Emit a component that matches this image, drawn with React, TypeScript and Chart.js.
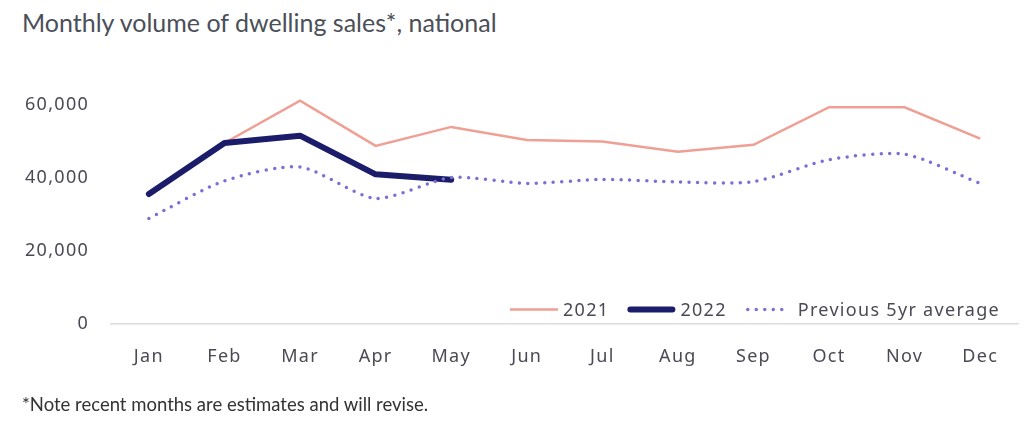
import React, { useEffect, useRef } from "react";
import { Chart, registerables } from "chart.js";

Chart.register(...registerables);

const months = ["Jan", "Feb", "Mar", "Apr", "May", "Jun", "Jul", "Aug", "Sep", "Oct", "Nov", "Dec"];
const sales2021 = [35500, 49500, 61100, 48700, 53900, 50300, 49900, 47100, 49000, 59300, 59300, 50700];
const sales2022 = [35500, 49500, 51500, 40900, 39400, null, null, null, null, null, null, null];
const avg5yr = [28800, 39100, 42900, 34300, 40000, 38400, 39500, 38800, 38900, 44900, 46400, 38400];
const yTicks = [0, 20000, 40000, 60000];

const FONT = "'Noto Sans', 'Open Sans', sans-serif";
const SPACING = "1.3px";

const spacingPlugin = {
  id: "letterSpacing",
  beforeLayout(chart: any) {
    chart.ctx.letterSpacing = SPACING;
  },
  beforeDraw(chart: any) {
    chart.ctx.letterSpacing = SPACING;
  },
};

const legendPlugin = {
  id: "customLegend",
  afterDraw(chart: any) {
    const ctx = chart.ctx;
    const area = chart.chartArea;
    const ds = chart.data.datasets;
    ctx.save();
    ctx.letterSpacing = SPACING;
    ctx.font = "18px " + FONT;
    ctx.textBaseline = "middle";
    const sample = 48;
    const gapText = 5;
    const gapItem = 18;
    const widths = ds.map((d: any) => ctx.measureText(d.label).width);
    const total = widths.reduce((a: number, w: number) => a + sample + gapText + w, 0) + gapItem * (ds.length - 1);
    let x = 1000 - total;
    const y = area.bottom - 14;
    ds.forEach((d: any, i: number) => {
      ctx.beginPath();
      ctx.strokeStyle = d.borderColor;
      ctx.lineWidth = d.borderWidth;
      ctx.lineCap = d.borderCapStyle || "butt";
      ctx.setLineDash(d.borderDash || []);
      const inset = d.borderCapStyle === "round" ? 3 : 0;
      ctx.moveTo(x + inset, y);
      ctx.lineTo(x + sample - inset, y);
      ctx.stroke();
      ctx.setLineDash([]);
      ctx.fillStyle = "#4a4a55";
      ctx.fillText(d.label, x + sample + gapText, y + 1);
      x += sample + gapText + widths[i] + gapItem;
    });
    ctx.restore();
  },
};

export default function App() {
  const ref = useRef<HTMLCanvasElement>(null);
  useEffect(() => {
    document.body.style.margin = "0";
    const chart = new Chart(ref.current!, {
      type: "line",
      data: {
        labels: months,
        datasets: [
          {
            label: "2021",
            data: sales2021,
            borderColor: "#ef9f94",
            borderWidth: 2.5,
            pointRadius: 0,
            tension: 0,
            order: 2,
          },
          {
            label: "2022",
            data: sales2022,
            borderColor: "#1b1d6b",
            borderWidth: 6,
            borderCapStyle: "round",
            borderJoinStyle: "round",
            pointRadius: 0,
            tension: 0,
            spanGaps: false,
            order: 1,
          },
          {
            label: "Previous 5yr average",
            data: avg5yr,
            borderColor: "#7b6fd6",
            borderWidth: 3.5,
            borderDash: [0, 8.5],
            borderCapStyle: "round",
            pointRadius: 0,
            tension: 0.25,
            order: 0,
          },
        ],
      },
      options: {
        animation: false,
        responsive: false,
        layout: { padding: { left: 11, right: 6, top: 13, bottom: 16 } },
        plugins: { legend: { display: false }, tooltip: { enabled: false }, title: { display: false } },
        scales: {
          x: {
            offset: true,
            grid: { display: false },
            border: { display: true, color: "#dcdcdc", width: 1.5 },
            ticks: { color: "#4a4a55", font: { family: FONT, size: 18 }, padding: 15 },
          },
          y: {
            min: 0,
            max: 66000,
            afterBuildTicks: (axis: any) => {
              axis.ticks = yTicks.map((v) => ({ value: v }));
            },
            grid: { display: false },
            border: { display: false },
            ticks: {
              color: "#4a4a55",
              font: { family: FONT, size: 18 },
              padding: 14,
              callback: (v: any) => Number(v).toLocaleString("en-US"),
            },
          },
        },
      },
      plugins: [spacingPlugin, legendPlugin],
    });
    return () => chart.destroy();
  }, []);

  return (
    <div style={{ position: "relative", width: 1024, height: 440, background: "#fff" }}>
      <div
        style={{
          position: "absolute",
          left: 22,
          top: 7,
          fontFamily: "Lato, sans-serif",
          fontSize: 25,
          color: "#4b4f58",
          whiteSpace: "nowrap",
        }}
      >
        Monthly volume of dwelling sales*, national
      </div>
      <canvas ref={ref} width={1024} height={341} style={{ position: "absolute", left: 0, top: 58 }} />
      <div
        style={{
          position: "absolute",
          left: 22,
          top: 393,
          fontFamily: "Lato, sans-serif",
          fontSize: 18.5,
          color: "#333",
          whiteSpace: "nowrap",
        }}
      >
        *Note recent months are estimates and will revise.
      </div>
    </div>
  );
}
